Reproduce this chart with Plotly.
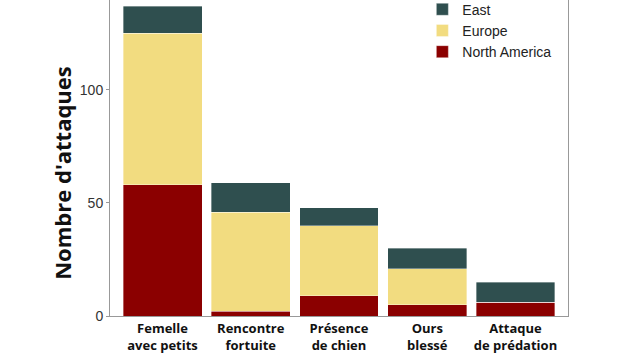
import plotly.graph_objects as go

categories = ["Femelle<br>avec petits", "Rencontre<br>fortuite", "Présence<br>de chien", "Ours<br>blessé", "Attaque<br>de prédation"]
north_america = [58, 2, 9, 5, 6]
europe = [67, 44, 31, 16, 0]
east = [12, 13, 8, 9, 9]
y_title = "Nombre d'attaques"

colors = {"North America": "#8B0000", "Europe": "#F2DC80", "East": "#2F4F4F"}

fig = go.Figure()
for name, vals in [("North America", north_america), ("Europe", europe), ("East", east)]:
    fig.add_trace(go.Bar(x=categories, y=vals, name=name,
                         marker=dict(color=colors[name], line=dict(width=0.6, color="rgba(255,255,255,0.6)"))))

fig.update_layout(
    barmode="stack",
    bargap=0.105,
    width=640, height=360,
    margin=dict(l=110, r=72, t=0, b=44, autoexpand=False),
    paper_bgcolor="white", plot_bgcolor="white",
    showlegend=True,
    legend=dict(x=0.682, y=1.02, xanchor="left", yanchor="top",
                font=dict(family="Liberation Sans, Arial", size=14, color="#222"),
                bgcolor="rgba(0,0,0,0)", tracegroupgap=0, traceorder="reversed",
                itemwidth=30),
    xaxis=dict(range=[-0.595, 4.595], showline=True, linecolor="#999", linewidth=1,
               ticks="", showgrid=False, automargin=False,
               tickfont=dict(family="Open Sans", size=13, color="#111", weight="bold")),
    yaxis=dict(range=[0, 139.8], showline=True, mirror=True, linecolor="#999", linewidth=1,
               tickvals=[0, 50, 100], ticks="outside", ticklen=3, tickcolor="#999",
               showgrid=False, zeroline=False, automargin=False,
               tickfont=dict(family="Liberation Sans, Arial", size=14, color="#333")),
    annotations=[dict(text=y_title, xref="paper", yref="paper", x=-0.105, y=0.453,
                      xanchor="center", yanchor="middle", textangle=-90, showarrow=False,
                      font=dict(family="Open Sans", size=22, color="#111", weight="bold"))],
)

fig.write_html("out.html", config={"displayModeBar": False},
               post_script="document.body.style.margin='0';")
